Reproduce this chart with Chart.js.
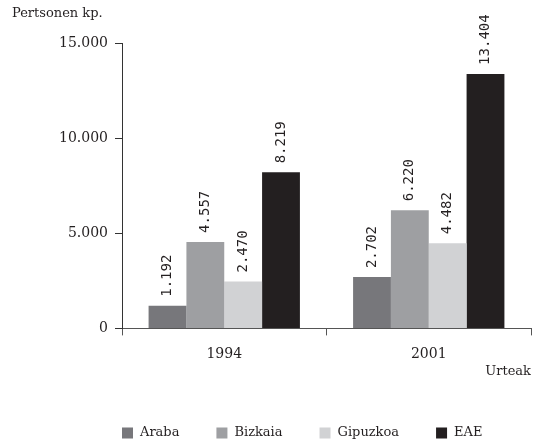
<!DOCTYPE html>
<html>
<head>
<meta charset="utf-8">
<script src="https://cdn.jsdelivr.net/npm/chart.js@4"></script>
<style>
  body { margin: 0; background: #fff; }
  #wrap { width: 533px; height: 445px; }
</style>
</head>
<body>
<div id="wrap"><canvas id="chart" width="533" height="445"></canvas></div>
<script>
// Persons per province, 1994 vs 2001

const years = ['1994', '2001'];
const seriesNames = ['Araba', 'Bizkaia', 'Gipuzkoa', 'EAE'];
const araba = [1192, 2702];
const bizkaia = [4557, 6220];
const gipuzkoa = [2470, 4482];
const eae = [8219, 13404];
const yTicks = [0, 5000, 10000, 15000];

const colors = ['#77777b', '#9e9fa2', '#d1d2d4', '#231f20'];
const serif = 'DejaVu Serif';
const textColor = '#231f20';

function fmt(v) {
    // thousands separator is a dot
    return String(v).replace(/\B(?=(\d{3})+(?!\d))/g, '.');
}

// Rotated value labels above each bar
const valueLabels = {
    id: 'valueLabels',
    afterDatasetsDraw(chart) {
        const ctx = chart.ctx;
        ctx.save();
        ctx.font = '14px "DejaVu Sans Mono", monospace';
        ctx.fillStyle = textColor;
        chart.data.datasets.forEach((ds, i) => {
            chart.getDatasetMeta(i).data.forEach((bar, j) => {
                ctx.save();
                ctx.translate(bar.x, bar.y - 9);
                ctx.rotate(-Math.PI / 2);
                ctx.textAlign = 'left';
                ctx.textBaseline = 'middle';
                ctx.fillText(fmt(ds.data[j]), 0, 0);
                ctx.restore();
            });
        });
        ctx.restore();
    }
};

// Legend drawn along the bottom, left aligned with the plot
const bottomLegend = {
    id: 'bottomLegend',
    afterDraw(chart) {
        const ctx = chart.ctx;
        let x = chart.chartArea.left;
        const y = 433;
        ctx.save();
        ctx.font = '13px "' + serif + '"';
        ctx.textBaseline = 'middle';
        ctx.textAlign = 'left';
        chart.data.datasets.forEach(ds => {
            ctx.fillStyle = ds.backgroundColor;
            ctx.fillRect(x, y - 5.5, 11, 11);
            ctx.fillStyle = textColor;
            ctx.fillText(ds.label, x + 18, y);
            x += 18 + ctx.measureText(ds.label).width + 37;
        });
        ctx.restore();
    }
};

const seriesValues = [araba, bizkaia, gipuzkoa, eae];

new Chart(document.getElementById('chart'), {
    type: 'bar',
    data: {
        labels: years,
        datasets: seriesNames.map((name, i) => ({
            label: name,
            data: seriesValues[i],
            backgroundColor: colors[i],
            borderWidth: 0,
            categoryPercentage: 0.74,
            barPercentage: 1
        }))
    },
    options: {
        responsive: false,
        animation: false,
        layout: { padding: { top: 6, left: 12, right: 2, bottom: 66 } },
        plugins: {
            legend: { display: false },
            tooltip: { enabled: false },
            title: {
                display: true,
                text: 'Pertsonen kp.',
                align: 'start',
                color: textColor,
                font: { family: serif, size: 13, weight: 'normal' },
                padding: { top: 0, bottom: 22 }
            }
        },
        scales: {
            x: {
                grid: { display: true, drawOnChartArea: false, drawTicks: true, tickLength: 7, color: '#555' },
                border: { color: '#555', width: 1 },
                ticks: { color: textColor, padding: 12, font: { family: serif, size: 14, lineHeight: 1 } },
                title: {
                    display: true,
                    text: 'Urteak',
                    align: 'end',
                    color: textColor,
                    font: { family: serif, size: 13 },
                    padding: { top: -10, bottom: 0 }
                }
            },
            y: {
                min: 0,
                max: 15000,
                afterBuildTicks: axis => { axis.ticks = yTicks.map(v => ({ value: v })); },
                afterFit: axis => { axis.width = 110; },
                grid: { display: true, drawOnChartArea: false, drawTicks: true, tickLength: 7, color: '#333' },
                border: { color: '#333', width: 1 },
                ticks: {
                    color: textColor,
                    padding: 7,
                    font: { family: serif, size: 14 },
                    callback: v => fmt(v)
                }
            }
        }
    },
    plugins: [valueLabels, bottomLegend]
});
</script>
</body>
</html>
